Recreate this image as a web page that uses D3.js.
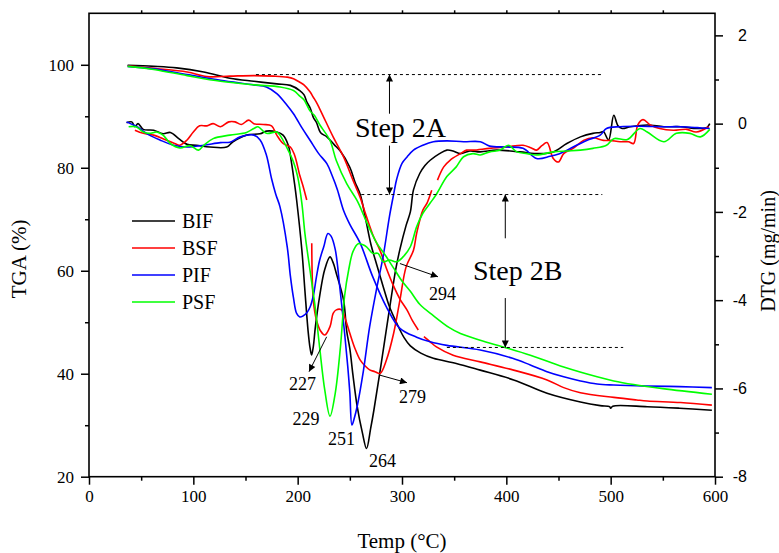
<!DOCTYPE html>
<html>
<head>
<meta charset="utf-8">
<script src="https://cdn.jsdelivr.net/npm/d3@7"></script>
<style>
  body { margin: 0; background: #fff; }
  svg { display: block; }
</style>
</head>
<body>
<svg id="chart" width="779" height="553"></svg>
<script>
const serif = '"Liberation Serif", "Times New Roman", serif'
const sans = '"Liberation Sans", Arial, sans-serif'

const seriesNames = ['BIF', 'BSF', 'PIF', 'PSF']
const seriesColors = ['#000000', '#ff0000', '#0000ff', '#00ff00']

const xTicks = [0, 100, 200, 300, 400, 500, 600]
const xMinorTicks = [50, 150, 250, 350, 450, 550]
const tgaTicks = [20, 40, 60, 80, 100]
const tgaMinorTicks = [30, 50, 70, 90]
const dtgTicks = [-8, -6, -4, -2, 0, 2]
const dtgMinorTicks = [-7, -5, -3, -1, 1]

// TGA curves, [temp °C, mass %] ; null breaks the line
const bifTga = [[37, 99.9], [62, 99.7], [84, 99.4], [110, 98.6], [135, 97.4], [158, 96.8], [180, 96.3], [193, 96.0],
  [202, 95.0], [206, 94.2], [209, 92.7], [212, 91.6], [215, 89.8], [218, 88.8], [222, 86.8], [228, 86.0], [235, 84.5],
  [241, 83.2], [250, 80.1], [255, 77.2], [260, 74.8], [265, 70.2], [270, 65.3], [276, 61.0], [282, 56.9], [288, 53.0],
  [295, 49.8], [302, 47.0], [308, 45.4], [318, 44.0], [330, 43.0], [352, 42.0], [375, 40.7], [407, 38.8], [439, 36.2],
  [471, 34.5], [490, 33.8], [499, 33.6], [500, 33.3], [502, 33.7], [535, 33.6], [566, 33.3], [597, 32.9]]
const bsfTga = [[37, 99.8], [62, 99.3], [94, 98.6], [113, 97.7], [135, 97.8], [158, 97.9], [177, 97.8], [190, 97.6],
  [196, 97.3], [202, 96.6], [206, 96.1], [212, 94.7], [215, 93.7], [218, 92.7], [221, 91.5], [225, 89.8], [234, 86.0],
  [244, 82.1], [253, 77.6], [260, 74.2], [264, 71.7], [272, 67.0], [279, 63.9], [285, 60.5], [292, 57.0], [298, 54.5],
  [305, 52.3], [310, 50.3], [315.6, 48.5], null, [321, 47.2], [327, 46.2], [333, 45.2], [349, 43.6], [375, 42.3],
  [407, 40.7], [439, 38.8], [455, 37.3], [471, 36.3], [503, 35.4], [525, 34.9], [535, 34.7], [567, 34.4], [597, 33.9]]
const pifTga = [[37, 99.7], [62, 99.2], [94, 98.1], [126, 97.0], [158, 96.1], [170, 95.7], [180, 94.4], [190, 92.1],
  [196, 90.5], [204, 87.8], [212, 85.3], [220, 82.8], [228, 80.8], [233, 78.5], [238, 75.8], [244, 71.7], [250, 69.0],
  [260, 65.3], [272, 58.8], [285, 53.0], [298, 48.8], [314, 47.1], [327, 46.2], [343, 45.5], [375, 44.6], [406, 43.0],
  [423, 41.7], [439, 40.4], [455, 39.4], [471, 38.6], [487, 38.0], [503, 37.8], [535, 37.6], [566, 37.5], [597, 37.3]]
const psfTga = [[37, 99.7], [62, 99.1], [94, 97.9], [126, 96.8], [158, 96.1], [183, 95.7], [196, 95.0], [202, 93.9],
  [206, 93.2], [212, 91.0], [216, 90.2], [221, 88.4], [231, 85.3], [237, 81.4], [247, 76.9], [257, 73.6], [266, 69.5],
  [276, 65.3], [284, 63.0], [292, 60.5], [300, 58.0], [308, 56.0], [317, 53.5], [330, 51.3], [345, 49.0], [356, 47.8],
  [375, 46.5], [397, 45.2], [423, 43.6], [455, 41.3], [487, 39.4], [503, 38.6], [522, 37.9], [550, 37.1], [597, 36.0]]

// DTG curves, [temp °C, mg/min] ; null breaks the line
const bifDtg = [[36, 0.02], [41, 0.04], [44, -0.07], [47, 0], [52, -0.13], [62, -0.15], [71, -0.23], [78, -0.2],
  [86, -0.34], [94, -0.47], [103, -0.49], [116, -0.53], [132, -0.53], [138, -0.41], [151, -0.26], [164, -0.23],
  [170, -0.17], [180, -0.19], [186, -0.26], [191, -0.49], [194, -0.87], [197, -1.36], [199, -1.73], [204, -2.86],
  [207, -3.8], [210, -4.7], [212, -5.1], [213.4, -5.24], [215, -5.05], [217, -4.6], [221, -3.92], [226, -3.3],
  [231, -3.02], [234, -3.15], [237, -3.39], [244, -4.0], [247, -4.7], [250, -5.1], [253, -5.7], [257, -6.4],
  [262, -7.0], [266, -7.36], [270, -6.9], [273, -6.5], [280, -5.45], [288, -4.2], [294, -3.3], [298, -2.85],
  [304, -2.3], [308, -2.0], [311, -1.5], [317, -1.13], [322, -0.95], [327, -0.83], [336, -0.68], [343, -0.6],
  [349, -0.62], [356, -0.68], [365, -0.62], [375, -0.64], [391, -0.6], [413, -0.64], [432, -0.68], [445, -0.64],
  [458, -0.45], [471, -0.3], [483, -0.22], [490, -0.2], [493, -0.18], [498, -0.37], [503, 0.19], [507, -0.05],
  [511, -0.11], [519, -0.07], [535, -0.03], [551, -0.07], [567, -0.07], [583, -0.11], [592, -0.09], [595, 0]]
const bsfDtg = [[44, -0.15], [52, -0.22], [62, -0.26], [71, -0.34], [82, -0.45], [87, -0.49], [94, -0.37],
  [100, -0.19], [106, -0.05], [113, -0.05], [119, 0], [126, -0.07], [134, 0.04], [140, 0.04], [146, -0.02],
  [153, 0.08], [158, 0], [167, -0.02], [175, -0.05], [180, -0.26], [186, -0.45], [193, -0.53], [197, -0.71],
  [202, -1.17], [205, -1.4], [208.7, -1.73], null, [213.5, -2.71], [215, -4.0], [218, -4.45], [222, -4.7],
  [226, -4.79], [231, -4.6], [234, -4.3], [237, -4.22], [242, -4.22], [246, -4.45], [250, -4.75], [255, -5.1],
  [260, -5.36], [265, -5.5], [269, -5.58], [274, -5.62], [279, -5.66], [285, -5.36], [292, -4.75], [298, -4.0],
  [304, -3.24], [311, -2.87], [314, -2.49], [320, -1.96], [324, -1.8], [328.5, -1.51], null, [334, -1.28],
  [340, -0.98], [346, -0.83], [356, -0.68], [362, -0.6], [368, -0.6], [384, -0.56], [400, -0.53], [416, -0.49],
  [424, -0.55], [429, -0.6], [434, -0.5], [439, -0.43], [445, -0.79], [450, -0.87], [455, -0.68], [464, -0.56],
  [474, -0.38], [483, -0.32], [493, -0.38], [499, -0.38], [509, -0.41], [517, -0.41], [522, -0.45], [526, -0.03],
  [531, 0.09], [538, -0.03], [547, -0.11], [560, -0.15], [573, -0.13], [582, -0.19], [594, -0.07]]
const pifDtg = [[36, 0.04], [46, -0.07], [55, -0.22], [68, -0.37], [81, -0.49], [94, -0.53], [110, -0.49],
  [126, -0.43], [135, -0.42], [145, -0.3], [158, -0.26], [164, -0.37], [170, -0.71], [175, -1.25], [179, -1.6],
  [183, -1.88], [190, -2.79], [193, -3.45], [196, -3.95], [199, -4.3], [202, -4.38], [205, -4.36], [209, -4.28],
  [212, -4.15], [215, -3.9], [218, -3.47], [221, -3.1], [225, -2.79], [229, -2.49], [232, -2.55], [236, -2.85],
  [240, -3.62], [245, -4.75], [248, -5.5], [250, -6.1], [252, -6.83], [254, -6.7], [257, -6.41], [263, -5.6],
  [269, -4.6], [276, -3.7], [282, -3.0], [288, -2.1], [292, -1.6], [295, -1.25], [300, -0.9], [305, -0.75],
  [311, -0.6], [320, -0.49], [330, -0.41], [343, -0.39], [359, -0.41], [375, -0.41], [384, -0.51], [400, -0.53],
  [416, -0.56], [429, -0.79], [442, -0.74], [451, -0.68], [464, -0.53], [477, -0.38], [490, -0.26], [496, -0.11],
  [509, -0.07], [528, -0.06], [550, -0.07], [567, -0.07], [583, -0.09], [595, -0.11]]
const psfDtg = [[38, -0.07], [45, -0.07], [52, -0.19], [58, -0.22], [65, -0.19], [71, -0.26], [78, -0.45],
  [87, -0.55], [97, -0.5], [105, -0.6], [110, -0.49], [119, -0.34], [135, -0.26], [151, -0.2], [158, -0.11],
  [162, -0.07], [170, -0.22], [180, -0.19], [183, -0.26], [190, -0.56], [196, -0.87], [200, -1.2], [204, -1.8],
  [207, -2.5], [210, -3.02], [215, -3.85], [217, -4.2], [221, -5.06], [226, -6.04], [231, -6.63], [236, -6.11],
  [241, -5.06], [245, -3.9], [249, -3.3], [253, -2.9], [258, -2.72], [262, -2.74], [266, -2.79], [272, -2.94],
  [277, -2.94], [282, -3.13], [288, -3.09], [295, -3.13], [301, -3.02], [308, -2.79], [314, -2.34], [320, -2.03],
  [327, -1.8], [333, -1.6], [343, -1.2], [352, -0.98], [359, -0.75], [368, -0.68], [375, -0.71], [384, -0.64],
  [394, -0.6], [402, -0.49], [410, -0.64], [420, -0.68], [429, -0.71], [445, -0.64], [458, -0.62], [471, -0.6],
  [483, -0.56], [496, -0.49], [503, -0.34], [516, -0.36], [528, -0.11], [535, -0.19], [551, -0.41], [563, -0.22],
  [576, -0.22], [586, -0.3], [595, -0.13]]

const tgaSeries = [bifTga, bsfTga, pifTga, psfTga]
const dtgSeries = [bifDtg, bsfDtg, pifDtg, psfDtg]

// peak temperatures on the DTG curves: label spot and optional arrow (temp, DTG)
const peakLabels = [
  { text: '227', at: [204.6, -6.04], from: [227.8, -4.83], to: [210.9, -5.62] },
  { text: '229', at: [208, -6.83] },
  { text: '251', at: [242, -7.28] },
  { text: '264', at: [281.3, -7.78] },
  { text: '279', at: [310, -6.33], from: [278.9, -5.70], to: [304.8, -5.87] },
  { text: '294', at: [338.8, -4.0], from: [298, -3.17], to: [334.5, -3.47] }
]

// mass-loss steps, on the TGA scale
const stepLines = [
  { tga: 98.1, from: 160, to: 492 },
  { tga: 74.8, from: 261, to: 492 },
  { tga: 45.1, from: 343, to: 512 }
]
const stepArrows = [
  { text: 'Step 2A', temp: 288, top: 98.1, bottom: 74.8, gapTop: 90.5, gapBottom: 84.3, textAt: [255, 85.9] },
  { text: 'Step 2B', temp: 399, top: 74.8, bottom: 45.1, gapTop: 66.3, gapBottom: 54.7, textAt: [368, 58.2] }
]

const width = 779
const height = 553
const margin = { top: 13.3, right: 64, bottom: 76.3, left: 89 }

const svg = d3.select('#chart')

const x = d3.scaleLinear().domain([0, 600]).range([margin.left, width - margin.right])
const yTga = d3.scaleLinear().domain([20, 110]).range([height - margin.bottom, margin.top])
const yDtg = d3.scaleLinear().domain([-8, 2.5]).range([height - margin.bottom, margin.top])

const defs = svg.append('defs')
defs.append('marker')
  .attr('id', 'head')
  .attr('viewBox', '0 0 10 10')
  .attr('refX', 10)
  .attr('refY', 5)
  .attr('markerWidth', 11)
  .attr('markerHeight', 7)
  .attr('markerUnits', 'userSpaceOnUse')
  .attr('orient', 'auto')
  .append('path')
  .attr('d', 'M0,0L10,5L0,10z')
  .attr('fill', '#000')

drawAxes()
drawCurves()
drawSteps()
drawPeaks()
drawLegend()

/**
 * Frame, ticks, tick labels and axis titles.
 */
function drawAxes () {
  const bottom = height - margin.bottom
  const right = width - margin.right

  const xAxis = svg.append('g')
    .attr('transform', `translate(0,${bottom})`)
    .call(d3.axisBottom(x).tickValues(xTicks).tickSize(8).tickPadding(5).tickSizeOuter(0))
  svg.append('g')
    .attr('transform', `translate(0,${bottom})`)
    .call(d3.axisBottom(x).tickValues(xMinorTicks).tickSize(4).tickFormat(''))
  svg.append('g')
    .attr('transform', `translate(0,${margin.top})`)
    .call(d3.axisTop(x).tickValues(xMinorTicks.concat(xTicks.slice(1, -1))).tickSize(3).tickFormat(''))

  const leftAxis = svg.append('g')
    .attr('transform', `translate(${margin.left},0)`)
    .call(d3.axisLeft(yTga).tickValues(tgaTicks).tickSize(8).tickPadding(7))
  svg.append('g')
    .attr('transform', `translate(${margin.left},0)`)
    .call(d3.axisLeft(yTga).tickValues(tgaMinorTicks).tickSize(4).tickFormat(''))

  const rightAxis = svg.append('g')
    .attr('transform', `translate(${right},0)`)
    .call(d3.axisRight(yDtg).tickValues(dtgTicks).tickSize(8))
  svg.append('g')
    .attr('transform', `translate(${right},0)`)
    .call(d3.axisRight(yDtg).tickValues(dtgMinorTicks).tickSize(4).tickFormat(''))

  svg.selectAll('.domain').remove()
  svg.selectAll('.tick line').attr('stroke', '#000').attr('stroke-width', 1.5)

  xAxis.selectAll('text').style('font-family', serif).style('font-size', '17px').attr('fill', '#000')
  leftAxis.selectAll('text').style('font-family', serif).style('font-size', '17px').attr('fill', '#000')
  rightAxis.selectAll('text')
    .style('font-family', sans)
    .style('font-size', '16px')
    .attr('fill', '#000')
    .attr('text-anchor', 'end')
    .attr('x', 32)
    .text(d => d < 0 ? '-' + Math.abs(d) : d)

  svg.append('rect')
    .attr('x', margin.left)
    .attr('y', margin.top)
    .attr('width', right - margin.left)
    .attr('height', bottom - margin.top)
    .attr('fill', 'none')
    .attr('stroke', '#000')
    .attr('stroke-width', 1.6)

  svg.append('text')
    .attr('x', (margin.left + right) / 2)
    .attr('y', 548)
    .attr('text-anchor', 'middle')
    .style('font-family', serif)
    .style('font-size', '21px')
    .text('Temp (°C)')

  svg.append('text')
    .attr('transform', 'translate(26,259) rotate(-90)')
    .attr('text-anchor', 'middle')
    .style('font-family', serif)
    .style('font-size', '21px')
    .text('TGA (%)')

  svg.append('text')
    .attr('transform', 'translate(775,251) rotate(-90)')
    .attr('text-anchor', 'middle')
    .style('font-family', serif)
    .style('font-size', '20px')
    .text('DTG (mg/min)')
}

/**
 * TGA and DTG lines for the four samples.
 */
function drawCurves () {
  const tgaLine = d3.line()
    .defined(d => d !== null)
    .x(d => x(d[0]))
    .y(d => yTga(d[1]))
    .curve(d3.curveCatmullRom)
  const dtgLine = d3.line()
    .defined(d => d !== null)
    .x(d => x(d[0]))
    .y(d => yDtg(d[1]))
    .curve(d3.curveCatmullRom)

  const g = svg.append('g').attr('fill', 'none').attr('stroke-width', 1.6)

  seriesNames.forEach((name, i) => {
    g.append('path')
      .attr('d', tgaLine(tgaSeries[i]))
      .attr('stroke', seriesColors[i])
    g.append('path')
      .attr('d', dtgLine(dtgSeries[i]))
      .attr('stroke', seriesColors[i])
  })
}

/**
 * Dashed levels and the Step 2A / 2B double arrows.
 */
function drawSteps () {
  svg.append('g')
    .selectAll('line')
    .data(stepLines)
    .join('line')
    .attr('x1', d => x(d.from))
    .attr('x2', d => x(d.to))
    .attr('y1', d => yTga(d.tga))
    .attr('y2', d => yTga(d.tga))
    .attr('stroke', '#000')
    .attr('stroke-width', 1)
    .attr('stroke-dasharray', '3,3')

  const g = svg.append('g')
  stepArrows.forEach(s => {
    g.append('line')
      .attr('x1', x(s.temp)).attr('x2', x(s.temp))
      .attr('y1', yTga(s.gapTop)).attr('y2', yTga(s.top))
      .attr('stroke', '#000')
      .attr('marker-end', 'url(#head)')
    g.append('line')
      .attr('x1', x(s.temp)).attr('x2', x(s.temp))
      .attr('y1', yTga(s.gapBottom)).attr('y2', yTga(s.bottom))
      .attr('stroke', '#000')
      .attr('marker-end', 'url(#head)')
    g.append('text')
      .attr('x', x(s.textAt[0]))
      .attr('y', yTga(s.textAt[1]))
      .style('font-family', serif)
      .style('font-size', '28px')
      .text(s.text)
  })
}

/**
 * Peak temperature labels on the DTG curves.
 */
function drawPeaks () {
  const g = svg.append('g')
  peakLabels.forEach(p => {
    if (p.from) {
      g.append('line')
        .attr('x1', x(p.from[0])).attr('y1', yDtg(p.from[1]))
        .attr('x2', x(p.to[0])).attr('y2', yDtg(p.to[1]))
        .attr('stroke', '#000')
        .attr('marker-end', 'url(#head)')
    }
    g.append('text')
      .attr('x', x(p.at[0]))
      .attr('y', yDtg(p.at[1]))
      .attr('text-anchor', 'middle')
      .style('font-family', serif)
      .style('font-size', '18px')
      .text(p.text)
  })
}

/**
 * Legend on the left, inside the frame.
 */
function drawLegend () {
  const g = svg.append('g').attr('transform', 'translate(132,221)')
  const row = g.selectAll('g')
    .data(seriesNames)
    .join('g')
    .attr('transform', (d, i) => `translate(0,${i * 27})`)
  row.append('line')
    .attr('x1', 0)
    .attr('x2', 43)
    .attr('stroke', (d, i) => seriesColors[i])
    .attr('stroke-width', 1.6)
  row.append('text')
    .attr('x', 50)
    .attr('y', 7)
    .style('font-family', serif)
    .style('font-size', '20px')
    .text(d => d)
}
</script>
</body>
</html>
